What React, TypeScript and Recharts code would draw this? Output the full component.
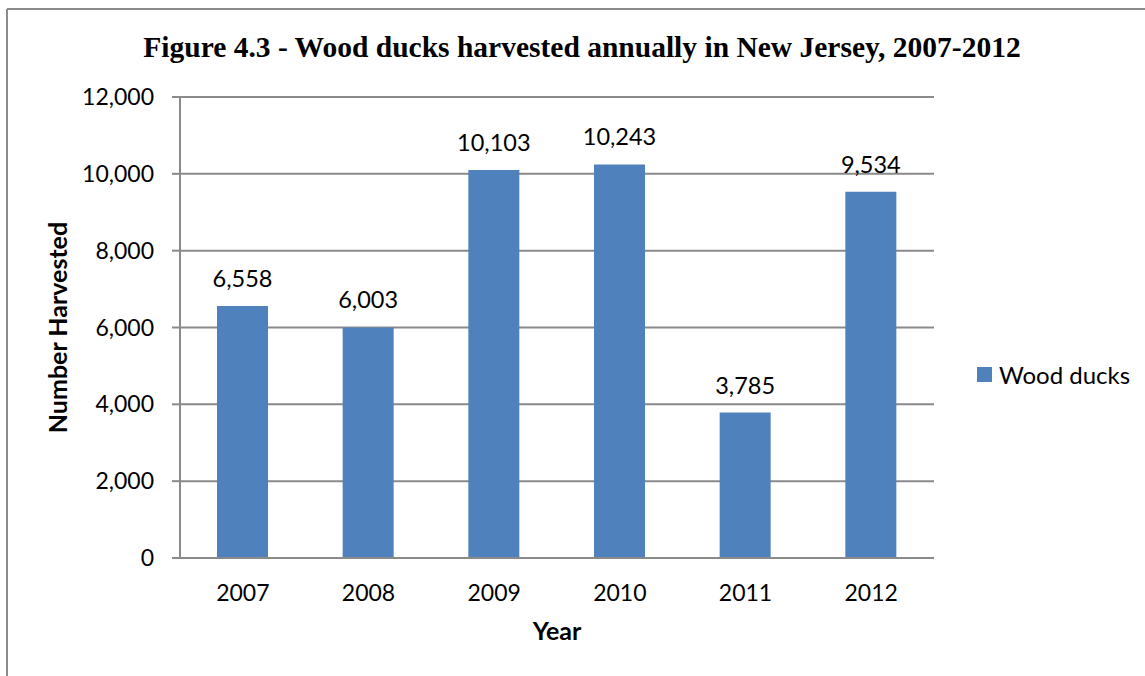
import { Bar, BarChart, CartesianGrid, LabelList, XAxis, YAxis } from 'recharts'

const years = ['2007', '2008', '2009', '2010', '2011', '2012']
const woodDucks = [6558, 6003, 10103, 10243, 3785, 9534]
const yTicks = [0, 2000, 4000, 6000, 8000, 10000, 12000]

const seriesName = 'Wood ducks'
const title = 'Figure 4.3 - Wood ducks harvested annually in New Jersey, 2007-2012'

const W = 1145
const H = 676
const FONT = 'Lato, "Open Sans", sans-serif'
const BLUE = '#4f81bd'
const GRID = '#8a8a8a'

const fmt = (v: number) => v.toLocaleString('en-US')

// series key shown to the right of the plot
function LegendBox() {
  return (
    <div
      style={{
        position: 'absolute',
        left: 977,
        top: 360,
        display: 'flex',
        alignItems: 'center',
        fontFamily: FONT,
        fontSize: 24,
        lineHeight: '29px',
        color: '#000',
      }}
    >
      <span style={{ width: 15, height: 15, background: BLUE, marginRight: 7 }} />
      <span>{seriesName}</span>
    </div>
  )
}

export default function App() {
  const data = years.map((year, i) => ({ year, value: woodDucks[i] }))

  return (
    <div style={{ position: 'absolute', left: 0, top: 0, width: W, height: H, background: '#fff' }}>
      {/* frame and title */}
      <svg width={W} height={H} style={{ position: 'absolute', left: 0, top: 0 }}>
        <line x1={7} y1={9} x2={W} y2={9} stroke="#8c8c8c" strokeWidth={2} />
        <line x1={7} y1={9} x2={7} y2={H} stroke="#8c8c8c" strokeWidth={2} />
        <text
          x={582}
          y={57}
          textAnchor="middle"
          fontFamily='"Liberation Serif", "Times New Roman", serif'
          fontWeight="bold"
          fontSize={29.5}
          fill="#000"
        >
          {title}
        </text>
      </svg>
      <div style={{ position: 'absolute', left: 0, top: 0 }}>
        <BarChart width={W} height={H} data={data} margin={{ top: 97, right: 211, bottom: 0, left: 0 }}>
          <CartesianGrid vertical={false} stroke={GRID} strokeWidth={2} />
          <XAxis
            dataKey="year"
            height={118}
            tickLine={false}
            tickSize={0}
            tickMargin={27}
            axisLine={{ stroke: GRID, strokeWidth: 2 }}
            tick={{ fill: '#000', fontSize: 23, fontFamily: FONT }}
            label={{
              value: 'Year',
              position: 'insideBottom',
              offset: 36,
              fill: '#000',
              fontSize: 25,
              fontWeight: 'bold',
              fontFamily: FONT,
            }}
          />
          <YAxis
            width={180}
            domain={[0, 12000]}
            ticks={yTicks}
            tickSize={8}
            tickMargin={18}
            tickFormatter={fmt}
            axisLine={{ stroke: GRID, strokeWidth: 2 }}
            tickLine={{ stroke: GRID, strokeWidth: 2 }}
            tick={{ fill: '#000', fontSize: 23, fontFamily: FONT }}
            label={{
              value: 'Number Harvested',
              angle: -90,
              position: 'insideLeft',
              offset: 58,
              fill: '#000',
              fontSize: 25,
              fontWeight: 'bold',
              fontFamily: FONT,
              style: { textAnchor: 'middle' },
            }}
          />
          <Bar dataKey="value" name={seriesName} fill={BLUE} barSize={51} isAnimationActive={false}>
            <LabelList
              dataKey="value"
              position="top"
              offset={19}
              formatter={(v: any) => fmt(Number(v))}
              fill="#000"
              fontSize={23.5}
              fontFamily={FONT}
            />
          </Bar>
        </BarChart>
      </div>
      <LegendBox />
    </div>
  )
}
